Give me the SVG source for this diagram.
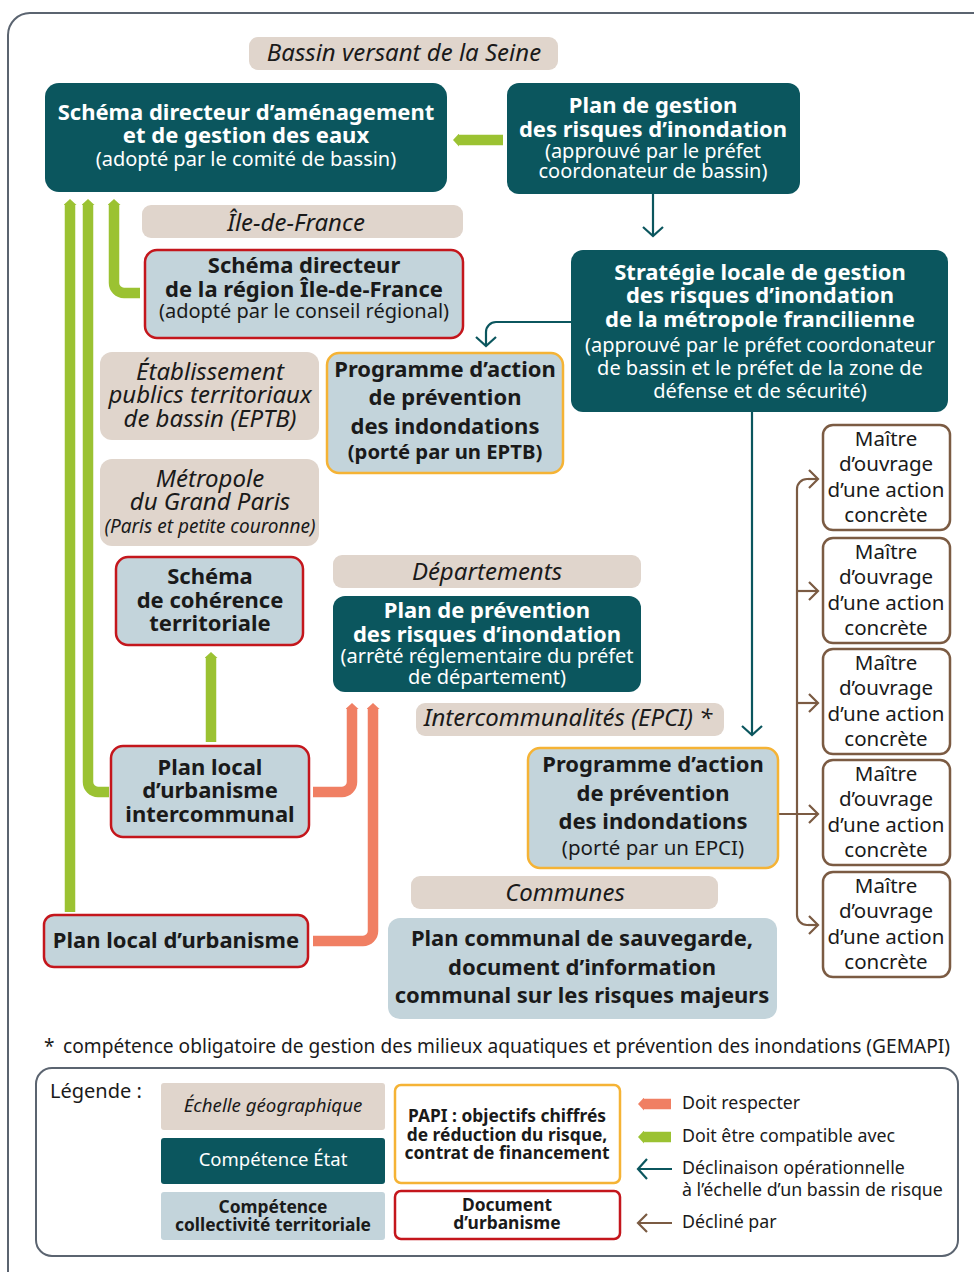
<svg xmlns="http://www.w3.org/2000/svg" width="974" height="1272" viewBox="0 0 974 1272">
<style>
  text{font-family:"Noto Sans","Open Sans","DejaVu Sans",sans-serif;text-anchor:middle;fill:#1a1a1a}
  .b{font-weight:700;font-size:22px}
  .r{font-size:20px}
  .m{font-size:20.5px}
  .w{fill:#ffffff}
  .i{font-style:italic;font-size:24px}
  .geo{fill:#e0d5cc}
  .etat{fill:#0b565e}
  .coll{fill:#c3d4db}
  .urb{stroke:#c4161c;stroke-width:2.5}
  .papi{stroke:#f5b335;stroke-width:2.5}
  .mo{fill:#ffffff;stroke:#7b5b43;stroke-width:2.5}
  .g{fill:none;stroke:#9bc232;stroke-width:10.5}
  .o{fill:none;stroke:#f07f63;stroke-width:10.5}
  .t{fill:none;stroke:#0b565e;stroke-width:2.2}
  .br{fill:none;stroke:#7b5b43;stroke-width:2.2}
  .leg{font-size:17.8px;text-anchor:start}
  .lb{font-size:17.4px;font-weight:700}
</style>
<defs>
  <marker id="mg" viewBox="0 0 6 13" refX="0" refY="6.5" markerWidth="6" markerHeight="13" markerUnits="userSpaceOnUse" orient="auto"><path d="M0,0 L6,6.5 L0,13 Z" fill="#9bc232"/></marker>
  <marker id="mo" viewBox="0 0 6 13" refX="0" refY="6.5" markerWidth="6" markerHeight="13" markerUnits="userSpaceOnUse" orient="auto"><path d="M0,0 L6,6.5 L0,13 Z" fill="#f07f63"/></marker>
  <marker id="mt" viewBox="-12 -12 14 24" refX="0" refY="0" markerWidth="14" markerHeight="24" markerUnits="userSpaceOnUse" orient="auto"><path d="M-9,-10 L0,0 L-9,10" fill="none" stroke="#0b565e" stroke-width="2.2"/></marker>
  <marker id="mb" viewBox="-12 -12 14 24" refX="0" refY="0" markerWidth="14" markerHeight="24" markerUnits="userSpaceOnUse" orient="auto"><path d="M-9,-9 L0,0 L-9,9" fill="none" stroke="#7b5b43" stroke-width="2.2"/></marker>
</defs>
<rect width="974" height="1272" fill="#ffffff"/>
<rect x="8" y="13" width="1000" height="1300" rx="22" fill="none" stroke="#5b6470" stroke-width="2"/>

<g id="connectors">
  <path class="g" d="M503,140 H459" marker-end="url(#mg)"/>
  <path class="g" d="M70,912 V205" marker-end="url(#mg)"/>
  <path class="g" d="M109,792 H98 A10,10 0 0 1 88,782 V205" marker-end="url(#mg)"/>
  <path class="g" d="M140,293 H124 A10,10 0 0 1 114,283 V205" marker-end="url(#mg)"/>
  <path class="g" d="M211,742 V658" marker-end="url(#mg)"/>
  <path class="o" d="M313,792 H342 A10,10 0 0 0 352,782 V709" marker-end="url(#mo)"/>
  <path class="o" d="M313,941 H363 A10,10 0 0 0 373,931 V709" marker-end="url(#mo)"/>
  <path class="t" d="M653,194 V236" marker-end="url(#mt)"/>
  <path class="t" d="M571,322 H496 A10,10 0 0 0 486,332 V346" marker-end="url(#mt)"/>
  <path class="t" d="M752,412 V735" marker-end="url(#mt)"/>
  <path class="br" d="M818,479 H807 A10,10 0 0 0 797,489 V915 A10,10 0 0 0 807,925 H818"/>
  <path class="br" d="M808,479 H818" marker-end="url(#mb)"/>
  <path class="br" d="M797,591 H818" marker-end="url(#mb)"/>
  <path class="br" d="M797,703 H818" marker-end="url(#mb)"/>
  <path class="br" d="M778,814 H818" marker-end="url(#mb)"/>
  <path class="br" d="M808,925 H818" marker-end="url(#mb)"/>
</g>

<g id="bassin">
  <rect class="geo" x="249" y="37" width="309" height="33" rx="9"/>
  <text class="i" x="404" y="61">Bassin versant de la Seine</text>
</g>
<g id="sdage">
  <rect class="etat" x="45" y="83" width="402" height="109" rx="14"/>
  <text class="b w" x="246" y="120">Schéma directeur d’aménagement</text>
  <text class="b w" x="246" y="143">et de gestion des eaux</text>
  <text class="r w" x="246" y="166">(adopté par le comité de bassin)</text>
</g>
<g id="pgri">
  <rect class="etat" x="507" y="83" width="293" height="111" rx="12"/>
  <text class="b w" x="653" y="113">Plan de gestion</text>
  <text class="b w" x="653" y="137">des risques d’inondation</text>
  <text class="r w" x="653" y="158">(approuvé par le préfet</text>
  <text class="r w" x="653" y="178">coordonateur de bassin)</text>
</g>
<g id="idf">
  <rect class="geo" x="142" y="205" width="321" height="33" rx="9"/>
  <text class="i" x="296" y="231">Île-de-France</text>
</g>
<g id="sdrif">
  <rect class="coll urb" x="145" y="250" width="318" height="88" rx="12"/>
  <text class="b" x="304" y="273">Schéma directeur</text>
  <text class="b" x="304" y="297">de la région Île-de-France</text>
  <text class="r" x="304" y="318">(adopté par le conseil régional)</text>
</g>
<g id="slgri">
  <rect class="etat" x="571" y="250" width="377" height="162" rx="12"/>
  <text class="b w" x="760" y="280">Stratégie locale de gestion</text>
  <text class="b w" x="760" y="303">des risques d’inondation</text>
  <text class="b w" x="760" y="327">de la métropole francilienne</text>
  <text class="r w" x="760" y="352">(approuvé par le préfet coordonateur</text>
  <text class="r w" x="760" y="375">de bassin et le préfet de la zone de</text>
  <text class="r w" x="760" y="398">défense et de sécurité)</text>
</g>
<g id="eptb">
  <rect class="geo" x="100" y="352" width="219" height="88" rx="12"/>
  <text class="i" x="210" y="380">Établissement</text>
  <text class="i" x="210" y="403">publics territoriaux</text>
  <text class="i" x="210" y="427">de bassin (EPTB)</text>
</g>
<g id="papi-eptb">
  <rect class="coll papi" x="327" y="353" width="236" height="120" rx="12"/>
  <text class="b" x="445" y="377">Programme d’action</text>
  <text class="b" x="445" y="405">de prévention</text>
  <text class="b" x="445" y="434">des indondations</text>
  <text class="b" style="font-size:20.3px" x="445" y="459">(porté par un EPTB)</text>
</g>
<g id="mgp">
  <rect class="geo" x="100" y="459" width="219" height="87" rx="12"/>
  <text class="i" x="210" y="487">Métropole</text>
  <text class="i" x="210" y="510">du Grand Paris</text>
  <text class="i" style="font-size:19px" x="210" y="533">(Paris et petite couronne)</text>
</g>
<g id="scot">
  <rect class="coll urb" x="116" y="557" width="187" height="88" rx="12"/>
  <text class="b" x="210" y="584">Schéma</text>
  <text class="b" x="210" y="608">de cohérence</text>
  <text class="b" x="210" y="631">territoriale</text>
</g>
<g id="departements">
  <rect class="geo" x="333" y="555" width="308" height="33" rx="9"/>
  <text class="i" x="487" y="580">Départements</text>
</g>
<g id="ppri">
  <rect class="etat" x="333" y="596" width="308" height="96" rx="12"/>
  <text class="b w" x="487" y="618">Plan de prévention</text>
  <text class="b w" x="487" y="642">des risques d’inondation</text>
  <text class="r w" x="487" y="663">(arrêté réglementaire du préfet</text>
  <text class="r w" x="487" y="684">de département)</text>
</g>
<g id="epci">
  <rect class="geo" x="416" y="703" width="308" height="33" rx="9"/>
  <text class="i" x="568" y="726">Intercommunalités (EPCI) *</text>
</g>
<g id="plui">
  <rect class="coll urb" x="111" y="746" width="198" height="91" rx="12"/>
  <text class="b" x="210" y="775">Plan local</text>
  <text class="b" x="210" y="798">d’urbanisme</text>
  <text class="b" x="210" y="822">intercommunal</text>
</g>
<g id="papi-epci">
  <rect class="coll papi" x="528" y="748" width="250" height="120" rx="12"/>
  <text class="b" x="653" y="772">Programme d’action</text>
  <text class="b" x="653" y="801">de prévention</text>
  <text class="b" x="653" y="829">des indondations</text>
  <text class="m" x="653" y="855">(porté par un EPCI)</text>
</g>
<g id="communes">
  <rect class="geo" x="411" y="876" width="307" height="33" rx="9"/>
  <text class="i" x="565" y="901">Communes</text>
</g>
<g id="plu">
  <rect class="coll urb" x="44" y="915" width="264" height="52" rx="10"/>
  <text class="b" x="176" y="948">Plan local d’urbanisme</text>
</g>
<g id="pcs">
  <rect class="coll" x="388" y="918" width="389" height="101" rx="12"/>
  <text class="b" x="582" y="946">Plan communal de sauvegarde,</text>
  <text class="b" x="582" y="975">document d’information</text>
  <text class="b" x="582" y="1003">communal sur les risques majeurs</text>
</g>
<g id="mo1">
  <rect class="mo" x="823" y="425" width="127" height="105" rx="10"/>
  <text class="m" x="886" y="446">Maître</text><text class="m" x="886" y="471">d’ouvrage</text><text class="m" x="886" y="497">d’une action</text><text class="m" x="886" y="522">concrète</text>
</g>
<g id="mo2">
  <rect class="mo" x="823" y="538" width="127" height="105" rx="10"/>
  <text class="m" x="886" y="559">Maître</text><text class="m" x="886" y="584">d’ouvrage</text><text class="m" x="886" y="610">d’une action</text><text class="m" x="886" y="635">concrète</text>
</g>
<g id="mo3">
  <rect class="mo" x="823" y="649" width="127" height="105" rx="10"/>
  <text class="m" x="886" y="670">Maître</text><text class="m" x="886" y="695">d’ouvrage</text><text class="m" x="886" y="721">d’une action</text><text class="m" x="886" y="746">concrète</text>
</g>
<g id="mo4">
  <rect class="mo" x="823" y="760" width="127" height="105" rx="10"/>
  <text class="m" x="886" y="781">Maître</text><text class="m" x="886" y="806">d’ouvrage</text><text class="m" x="886" y="832">d’une action</text><text class="m" x="886" y="857">concrète</text>
</g>
<g id="mo5">
  <rect class="mo" x="823" y="872" width="127" height="105" rx="10"/>
  <text class="m" x="886" y="893">Maître</text><text class="m" x="886" y="918">d’ouvrage</text><text class="m" x="886" y="944">d’une action</text><text class="m" x="886" y="969">concrète</text>
</g>

<g id="footnote">
  <text class="leg" style="font-size:19px" x="44" y="1053">*</text>
  <text class="leg" style="font-size:19px" x="63" y="1053" textLength="887" lengthAdjust="spacingAndGlyphs">compétence obligatoire de gestion des milieux aquatiques et prévention des inondations (GEMAPI)</text>
</g>

<g id="legende">
  <rect x="36" y="1068" width="922" height="188" rx="16" fill="none" stroke="#5b6470" stroke-width="2"/>
  <text class="leg" style="font-size:20px" x="50" y="1098">Légende :</text>
  <rect class="geo" x="161" y="1083" width="224" height="47" rx="3"/>
  <text style="font-size:18.7px;font-style:italic" x="273" y="1112">Échelle géographique</text>
  <rect class="etat" x="161" y="1138" width="224" height="46" rx="3"/>
  <text class="w" style="font-size:18.5px" x="273" y="1166">Compétence État</text>
  <rect class="coll" x="161" y="1192" width="224" height="48" rx="3"/>
  <text class="lb" x="273" y="1213">Compétence</text>
  <text class="lb" x="273" y="1231">collectivité territoriale</text>
  <rect x="395" y="1085" width="225" height="98" rx="6" fill="#ffffff" class="papi"/>
  <text class="lb" x="507" y="1122">PAPI : objectifs chiffrés</text>
  <text class="lb" x="507" y="1141">de réduction du risque,</text>
  <text class="lb" x="507" y="1159">contrat de financement</text>
  <rect x="395" y="1191" width="225" height="48" rx="6" fill="#ffffff" class="urb"/>
  <text class="lb" x="507" y="1211">Document</text>
  <text class="lb" x="507" y="1229">d’urbanisme</text>
  <path class="o" d="M671,1104 H644" marker-end="url(#mo)"/>
  <text class="leg" x="682" y="1109">Doit respecter</text>
  <path class="g" d="M671,1137 H644" marker-end="url(#mg)"/>
  <text class="leg" x="682" y="1142">Doit être compatible avec</text>
  <path class="t" d="M672,1169 H638" marker-end="url(#mt)"/>
  <text class="leg" x="682" y="1174">Déclinaison opérationnelle</text>
  <text class="leg" x="682" y="1196">à l’échelle d’un bassin de risque</text>
  <path class="br" d="M672,1223 H638" marker-end="url(#mb)"/>
  <text class="leg" x="682" y="1228">Décliné par</text>
</g>
</svg>
